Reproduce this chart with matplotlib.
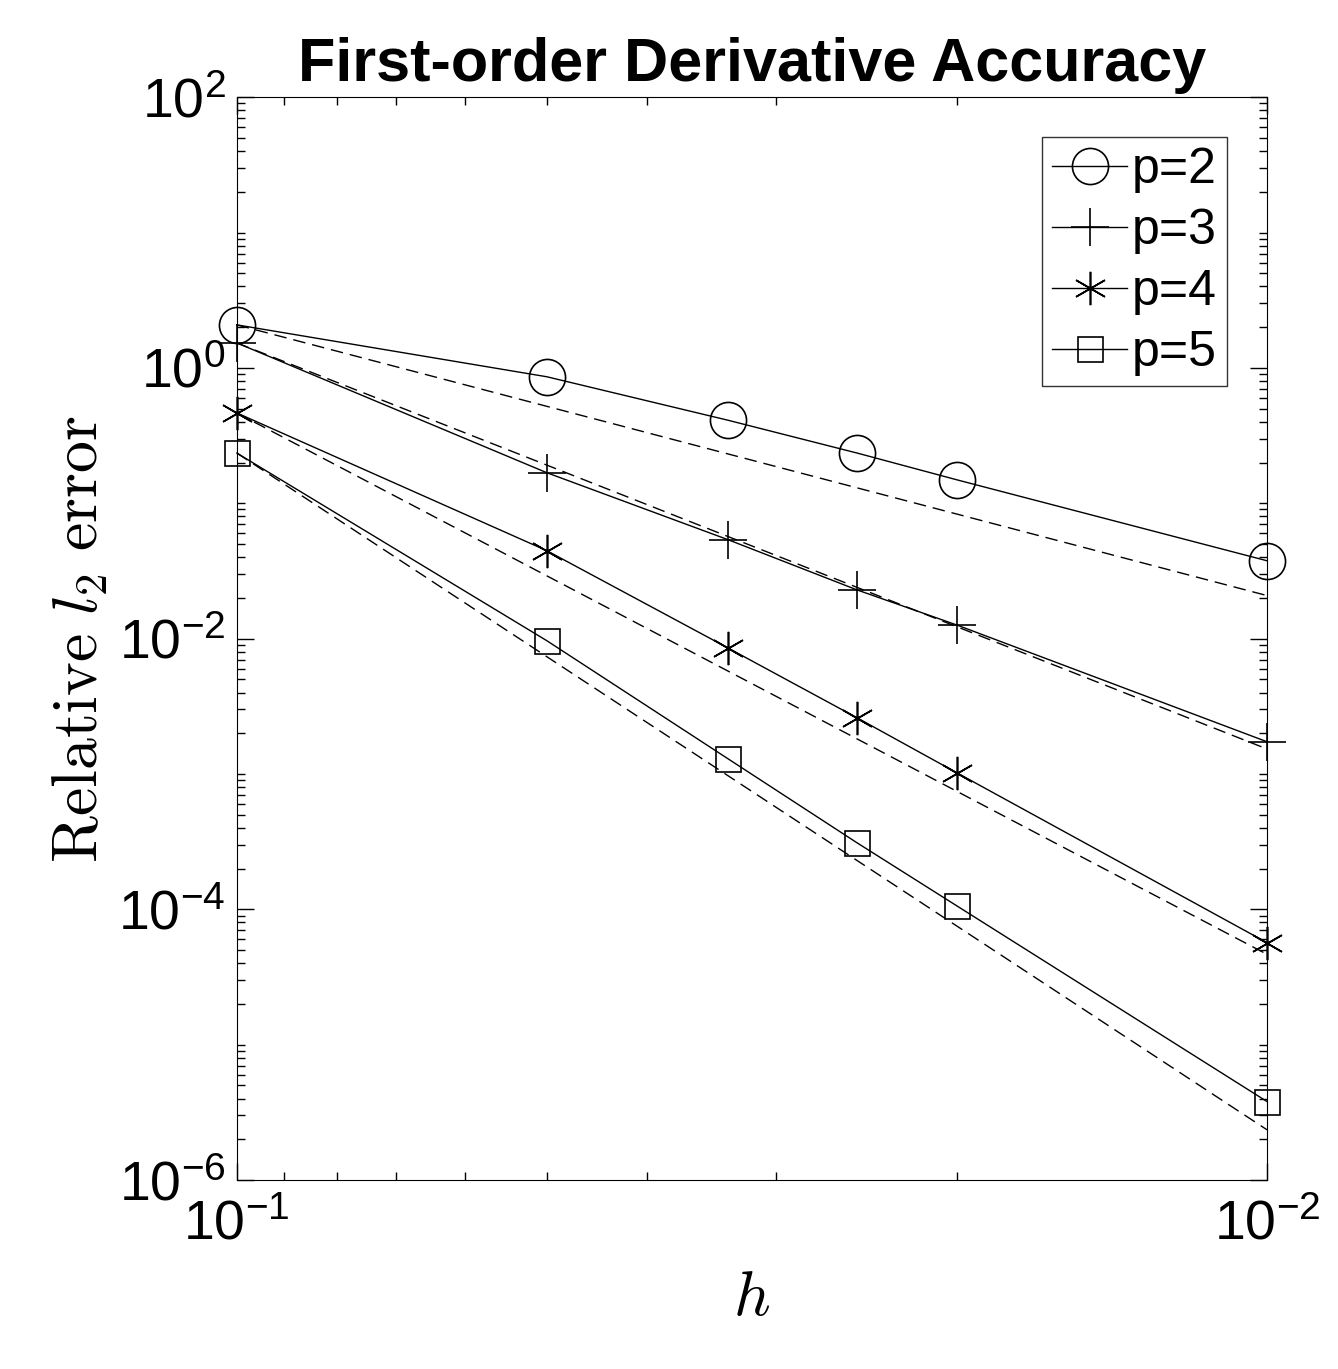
import numpy as np
import matplotlib
matplotlib.use("Agg")
import matplotlib.pyplot as plt
from matplotlib.ticker import LogLocator, NullFormatter

plt.rcParams['font.family'] = ['Liberation Sans', 'DejaVu Sans']
plt.rcParams['mathtext.fontset'] = 'cm'
plt.rcParams['axes.unicode_minus'] = False

# grid spacings and measured errors
h = [0.1, 0.05, 1/30, 0.025, 0.02, 0.01]
err_p2 = [2.08, 0.86, 0.41, 0.235, 0.149, 0.0376]
err_p3 = [1.53, 0.168, 0.0537, 0.0229, 0.0126, 0.00173]
err_p4 = [0.465, 0.0446, 0.0085, 0.0026, 0.00102, 5.67e-5]
err_p5 = [0.235, 0.00964, 0.00129, 3.1e-4, 1.06e-4, 3.8e-6]
orders = [2, 3, 4, 5]
markers = ['o', '+', (6, 2, 0), 's']
sizes = [26, 28, 24, 18]

fig = plt.figure(figsize=(13.38, 13.69), dpi=100)
ax = fig.add_axes([0.177, 0.138, 0.77, 0.791])

hh = np.array(h)
for p, err, m, ms in zip(orders, [err_p2, err_p3, err_p4, err_p5], markers, sizes):
    ax.loglog(h, err, color='black', lw=1.0, marker=m, ms=ms, mfc='none',
              mew=1.2, label=f'p={p}', clip_on=False, zorder=3)
    # reference slope line anchored at the first point
    ax.loglog(h, err[0] * (hh / h[0]) ** p, color='black', lw=1.0, ls=(0, (9, 5)))

ax.set_xlim(0.1, 0.01)
ax.set_ylim(1e-6, 1e2)
ax.set_xticks([0.1, 0.01])
ax.set_yticks([1e2, 1e0, 1e-2, 1e-4, 1e-6])
ax.set_xticklabels([r'$\mathdefault{10^{-1}}$', r'$\mathdefault{10^{-2}}$'])
ax.set_yticklabels([r'$\mathdefault{10^{2}}$', r'$\mathdefault{10^{0}}$',
                    r'$\mathdefault{10^{-2}}$', r'$\mathdefault{10^{-4}}$',
                    r'$\mathdefault{10^{-6}}$'])
ax.yaxis.set_minor_locator(LogLocator(base=10, subs=np.arange(1, 10), numticks=20))
ax.yaxis.set_minor_formatter(NullFormatter())
ax.xaxis.set_minor_formatter(NullFormatter())
ax.tick_params(which='both', direction='in', top=True, right=True, labelsize=40)
ax.tick_params(which='major', length=12, width=1)
ax.tick_params(which='minor', length=6, width=1)
ax.tick_params(axis='x', pad=14)
ax.tick_params(axis='y', pad=8)

ax.set_title('First-order Derivative Accuracy', fontsize=44, fontweight='bold', pad=12)
ax.set_xlabel(r'$h$', fontsize=46, labelpad=12)
ax.set_ylabel(r'$\mathrm{Relative}\ l_2\ \mathrm{error}$', fontsize=46, labelpad=6)

leg = ax.legend(loc='upper right', fontsize=36, frameon=True, fancybox=False,
                edgecolor='black', handlelength=1.5, handletextpad=0.1,
                borderpad=0.2, labelspacing=0.3, borderaxespad=0.8)
leg.get_frame().set_linewidth(1.0)

fig.savefig('out.png', dpi=100)
